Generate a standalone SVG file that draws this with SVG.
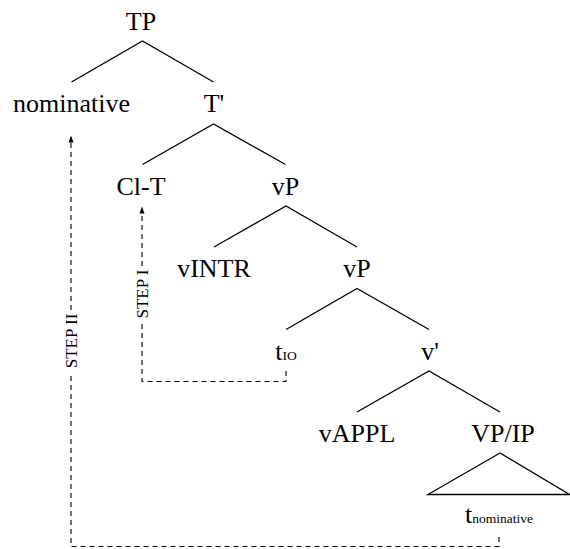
<svg xmlns="http://www.w3.org/2000/svg" width="570" height="549" viewBox="0 0 570 549">
<style>
.lbl{font-family:"Liberation Serif","Times New Roman",serif;font-size:26px;fill:#000;text-anchor:middle}
.sub{font-size:13.5px}
.step{font-family:"Liberation Serif","Times New Roman",serif;font-size:17px;fill:#000;text-anchor:middle}
.edge{stroke:#000;stroke-width:1.3;fill:none}
.mv{stroke:#000;stroke-width:1.1;fill:none;stroke-dasharray:5,4}
</style>
<defs>
<marker id="ah" viewBox="0 0 8 10" refX="4" refY="1" markerWidth="8" markerHeight="10" markerUnits="userSpaceOnUse" orient="auto-start-reverse">
<path d="M0,9 L4,0 L8,9 Z" fill="#000"/>
</marker>
</defs>
<rect width="570" height="549" fill="#fff"/>
<g id="connectors">
<path class="edge" d="M71.5,82 L142.5,41 L213.5,82"/>
<path class="edge" d="M142.5,164.5 L213.5,124 L285.5,164.5"/>
<path class="edge" d="M214,247 L286,206 L357,247"/>
<path class="edge" d="M286,329.5 L357,288.5 L429,329.5"/>
<path class="edge" d="M357,412 L429,371 L500,412"/>
<path class="edge" d="M500,453 L428,494.5 L569.5,494.5 Z"/>
<g id="step1">
<path class="mv" d="M286,371 L286,381.5 L142,381.5 L142,324"/>
<path class="mv" d="M142,266 L142,212"/>
<path d="M142,206.5 L139.5,213.5 L144.5,213.5 Z" fill="#000"/>
<text class="step" transform="translate(148,294) rotate(-90)">STEP I</text>
</g>
<g id="step2">
<path class="mv" d="M499,537 L499,546.5 L71,546.5 L71,372"/>
<path class="mv" d="M71,310 L71,141"/>
<path d="M71,135.5 L68.5,142.5 L73.5,142.5 Z" fill="#000"/>
<text class="step" transform="translate(77,341) rotate(-90)">STEP II</text>
</g>
</g>
<g id="n-TP"><text class="lbl" x="141" y="29.5">TP</text></g>
<g id="n-nominative"><text class="lbl" x="71.5" y="111.5">nominative</text></g>
<g id="n-Tbar"><text class="lbl" x="214" y="111.5">T'</text></g>
<g id="n-ClT"><text class="lbl" x="141" y="195">Cl-T</text></g>
<g id="n-vP1"><text class="lbl" x="285.5" y="195">vP</text></g>
<g id="n-vINTR"><text class="lbl" x="214" y="277">vINTR</text></g>
<g id="n-vP2"><text class="lbl" x="357" y="277">vP</text></g>
<g id="n-tIO"><text class="lbl" x="286" y="359.5">t<tspan class="sub">IO</tspan></text></g>
<g id="n-vbar"><text class="lbl" x="430" y="359.5">v'</text></g>
<g id="n-vAPPL"><text class="lbl" x="357" y="442">vAPPL</text></g>
<g id="n-VPIP"><text class="lbl" x="503" y="442">VP/IP</text></g>
<g id="n-tnom"><text class="lbl" x="499" y="523">t<tspan class="sub">nominative</tspan></text></g>
</svg>
